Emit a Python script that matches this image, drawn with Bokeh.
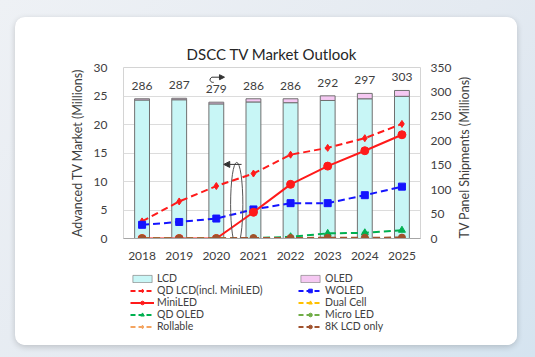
import math
from bokeh.plotting import figure
from bokeh.models import (Range1d, LinearAxis, FixedTicker, Legend, LegendItem,
                          Arrow, NormalHead)
from bokeh.layouts import column
from bokeh.embed import file_html
from bokeh.resources import INLINE
from bokeh.core.properties import value

# ---------------- data ----------------
years = ["2018", "2019", "2020", "2021", "2022", "2023", "2024", "2025"]
panel_total = [286, 287, 279, 286, 286, 292, 297, 303]        # right axis
oled_panels = [2.5, 3, 3.5, 6.5, 8, 9.5, 11, 12]               # right axis
lcd_panels = [t - o for t, o in zip(panel_total, oled_panels)]

qd_lcd = [3.0, 6.5, 9.2, 11.4, 14.7, 15.9, 17.6, 20.1]
miniled = [0, 0, 0, 4.6, 9.5, 12.7, 15.4, 18.2]
woled = [2.4, 2.9, 3.5, 5.1, 6.2, 6.2, 7.6, 9.1]
qd_oled = [0, 0, 0, 0.05, 0.3, 0.9, 1.0, 1.45]
dual_cell = [0, 0, 0, 0, 0, 0, 0, 0]
micro_led = [0, 0, 0, 0, 0, 0, 0.02, 0.05]
rollable = [0, 0, 0, 0.02, 0.03, 0.03, 0.04, 0.05]
k8_lcd = [0.03, 0.04, 0.05, 0.08, 0.1, 0.12, 0.14, 0.16]

left_ticks = [0, 5, 10, 15, 20, 25, 30]
right_ticks = [0, 50, 100, 150, 200, 250, 300, 350]

x = list(range(len(years)))
FONT = "Lato"
TXT = "#404040"
NAN = float("nan")

p = figure(width=502, height=245, output_backend="svg", toolbar_location=None,
           x_range=Range1d(-0.5, 7.5), y_range=Range1d(0, 30),
           min_border_left=108, min_border_right=97, min_border_top=50,
           min_border_bottom=22, background_fill_color="white",
           border_fill_color="white", outline_line_color="#d4d4d4")
p.extra_y_ranges = {"ship": Range1d(0, 350)}

p.title.text = "DSCC TV Market Outlook"
p.title.align = "center"
p.title.text_font = FONT
p.title.text_font_size = "15px"
p.title.text_font_style = "normal"
p.title.text_color = "#262626"

# axes
xa = p.xaxis[0]
xa.ticker = FixedTicker(ticks=x)
xa.major_label_overrides = {i: y for i, y in zip(x, years)}
ya = p.yaxis[0]
ya.ticker = FixedTicker(ticks=left_ticks)
ya.axis_label = "Advanced TV Market (Millions)"
ra = LinearAxis(y_range_name="ship", ticker=FixedTicker(ticks=right_ticks),
                axis_label="TV Panel Shipments (Millions)")
p.add_layout(ra, "right")
for ax in (xa, ya, ra):
    ax.major_tick_line_color = None
    ax.minor_tick_line_color = None
    ax.major_label_text_font = FONT
    ax.major_label_text_font_size = "12px"
    ax.major_label_text_color = TXT
    ax.axis_label_text_font = FONT
    ax.axis_label_text_font_size = "12.5px"
    ax.axis_label_text_font_style = "normal"
    ax.axis_label_text_color = TXT
    ax.major_label_standoff = 10
ya.axis_line_color = None
ra.axis_line_color = None
xa.axis_line_color = "#a6a6a6"
xa.major_label_standoff = 7
ya.axis_label_standoff = 6
ra.major_label_standoff = 4
ra.axis_label_standoff = 10
if "axis_label_orientation" in ra.properties():
    ra.axis_label_orientation = math.pi / 2
if "axis_label_align" in ra.properties():
    ra.axis_label_align = "start"
p.xgrid.grid_line_color = None
p.ygrid.ticker = FixedTicker(ticks=left_ticks)
p.ygrid.grid_line_color = "#dcdcdc"

# bars
LCD_FILL, OLED_FILL, BAR_LINE = "#c8f6f6", "#f5c8f2", "#707070"
p.vbar(x=x, width=0.4, bottom=0, top=lcd_panels, y_range_name="ship",
       fill_color=LCD_FILL, line_color=BAR_LINE, line_width=1)
p.vbar(x=x, width=0.4, bottom=lcd_panels, top=panel_total, y_range_name="ship",
       fill_color=OLED_FILL, line_color=BAR_LINE, line_width=1)
p.text(x=x, y=panel_total, text=[str(v) for v in panel_total], y_range_name="ship",
       text_align="center", text_baseline="middle", y_offset=-13,
       text_font=value(FONT), text_font_size="12px", text_color=TXT)

styles = {
    "QD LCD(incl. MiniLED)": ("#ff1a1a", "diamond", 7, "7 4"),
    "WOLED": ("#1414ff", "square", 7, "7 4"),
    "MiniLED": ("#ff1a1a", "circle", 8, "solid"),
    "QD OLED": ("#00b050", "triangle", 7, "7 4"),
    "Dual Cell": ("#ffc000", "triangle", 7, "7 4"),
    "Micro LED": ("#70ad47", "circle", 6, "7 4"),
    "Rollable": ("#f4a460", "diamond", 6, "7 4"),
    "8K LCD only": ("#a0522d", "circle", 7, "7 4"),
}
series_vals = {
    "QD LCD(incl. MiniLED)": qd_lcd, "WOLED": woled, "MiniLED": miniled,
    "QD OLED": qd_oled, "Dual Cell": dual_cell, "Micro LED": micro_led,
    "Rollable": rollable, "8K LCD only": k8_lcd,
}
for name, vals in series_vals.items():
    c, m, s, d = styles[name]
    p.line(x, vals, line_color=c, line_width=2, line_dash=d)
    p.scatter(x, vals, marker=m, size=s, fill_color=c, line_color=c)

# annotations (ellipse + arrows)
p.ellipse(x=[2.55], y=[6.0], width=0.33, height=14.7, fill_alpha=0,
          line_color="#555555", line_width=1)
p.add_layout(Arrow(x_start=2.68, y_start=13.0, x_end=2.2, y_end=13.0,
                   line_color="#333333", line_width=1,
                   end=NormalHead(size=6, fill_color="#333333", line_color="#333333")))
p.add_layout(Arrow(x_start=1.88, y_start=28.3, x_end=2.22, y_end=28.3,
                   line_color="#333333", line_width=1,
                   end=NormalHead(size=5, fill_color="#333333", line_color="#333333")))
p.bezier(x0=[1.88], y0=[28.3], x1=[1.93], y1=[27.4], cx0=[1.78], cy0=[27.9],
         cx1=[1.85], cy1=[27.3], line_color="#333333", line_width=1)

# ---------------- legend panel (separate small figure) ----------------
lf = figure(width=502, height=83, output_backend="svg", toolbar_location=None,
            x_range=Range1d(0, 1), y_range=Range1d(0, 1), min_border=0,
            background_fill_color="white", border_fill_color="white",
            outline_line_color=None)
lf.axis.visible = False
lf.grid.visible = False


def proxy_bar(fill):
    # legend-only proxy (not a data mark)
    return lf.vbar(x=[NAN], top=[NAN], width=0.1, fill_color=fill, line_color=BAR_LINE,
                   line_width=0.6)


def proxy_series(name):
    c, m, s, d = styles[name]
    r1 = lf.line(x=[NAN], y=[NAN], line_color=c, line_width=2, line_dash="5 3" if d != "solid" else d)
    r2 = lf.scatter(x=[NAN], y=[NAN], marker=m, size=s - 1, fill_color=c, line_color=c)
    return [r1, r2]


col1 = [LegendItem(label="LCD", renderers=[proxy_bar(LCD_FILL)])] + \
       [LegendItem(label=n, renderers=proxy_series(n))
        for n in ["QD LCD(incl. MiniLED)", "MiniLED", "QD OLED", "Rollable"]]
col2 = [LegendItem(label="OLED", renderers=[proxy_bar(OLED_FILL)])] + \
       [LegendItem(label=n, renderers=proxy_series(n))
        for n in ["WOLED", "Dual Cell", "Micro LED", "8K LCD only"]]
for items, xloc in ((col1, 7), (col2, 175)):
    lg = Legend(items=items, location=(xloc, 13), orientation="vertical",
                padding=0, margin=0, spacing=0, glyph_width=24, glyph_height=9,
                label_height=12, label_standoff=3,
                label_text_font=FONT, label_text_font_size="10.5px",
                label_text_color=TXT, border_line_alpha=0, background_fill_alpha=0)
    lf.add_layout(lg)

card = column(p, lf, width=502, height=328, margin=(17, 18, 12, 15),
              styles={"border-radius": "10px", "overflow": "hidden",
                      "background": "white",
                      "box-shadow": "0 2px 6px rgba(0,0,0,0.18)"})

page = column(card, width=535, height=357, sizing_mode="fixed",
              styles={"background": "linear-gradient(135deg, #eef1f5 0%, #e4eaf1 55%, #d5e4f0 100%)"})

open("out.html", "w").write(file_html(page, INLINE))
